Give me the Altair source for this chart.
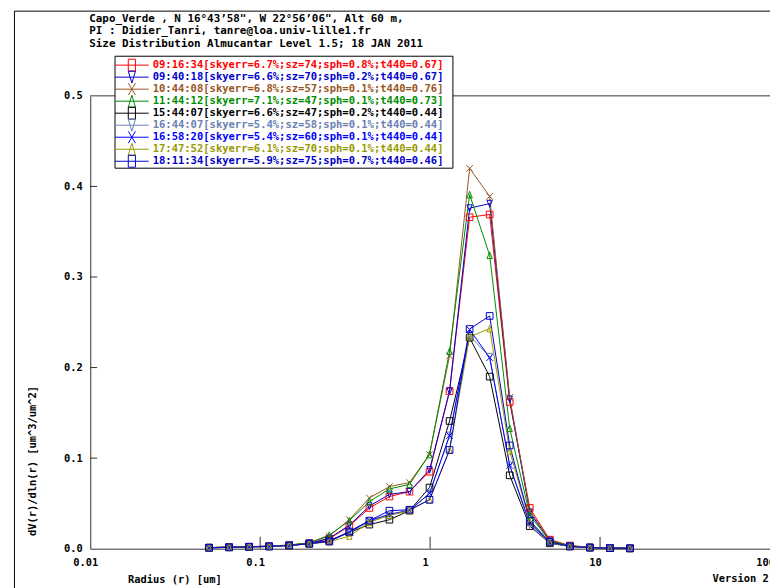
import altair as alt
import pandas as pd

# ---------------- data ----------------
radius = [0.05, 0.065604, 0.086077, 0.112939, 0.148184, 0.194428, 0.255104, 0.334716,
          0.439173, 0.576227, 0.756052, 0.991996, 1.301571, 1.707757, 2.240702, 2.939966,
          3.857452, 5.061260, 6.640745, 8.713145, 11.432287, 15.0]

times = ["09:16:34", "09:40:18", "10:44:08", "11:44:12", "15:44:07",
         "16:44:07", "16:58:20", "17:47:52", "18:11:34"]

labels = [
    "09:16:34[skyerr=6.7%;sz=74;sph=0.8%;t440=0.67]",
    "09:40:18[skyerr=6.6%;sz=70;sph=0.2%;t440=0.67]",
    "10:44:08[skyerr=6.8%;sz=57;sph=0.1%;t440=0.76]",
    "11:44:12[skyerr=7.1%;sz=47;sph=0.1%;t440=0.73]",
    "15:44:07[skyerr=6.6%;sz=47;sph=0.2%;t440=0.44]",
    "16:44:07[skyerr=5.4%;sz=58;sph=0.1%;t440=0.44]",
    "16:58:20[skyerr=5.4%;sz=60;sph=0.1%;t440=0.44]",
    "17:47:52[skyerr=6.1%;sz=70;sph=0.1%;t440=0.44]",
    "18:11:34[skyerr=5.9%;sz=75;sph=0.7%;t440=0.46]",
]

s_091634 = [0.0012, 0.0018, 0.0022, 0.0028, 0.0038, 0.0060, 0.0110, 0.0250, 0.0450, 0.0576, 0.0630,
            0.0850, 0.1740, 0.3660, 0.3690, 0.1620, 0.0450, 0.0100, 0.0035, 0.0015, 0.0008, 0.0005]
s_094018 = [0.0012, 0.0018, 0.0022, 0.0028, 0.0038, 0.0060, 0.0115, 0.0260, 0.0470, 0.0600, 0.0630,
            0.0870, 0.1740, 0.3760, 0.3810, 0.1650, 0.0400, 0.0090, 0.0030, 0.0013, 0.0007, 0.0004]
s_104408 = [0.0012, 0.0018, 0.0022, 0.0028, 0.0040, 0.0065, 0.0140, 0.0320, 0.0560, 0.0686, 0.0730,
            0.1040, 0.2130, 0.4200, 0.3890, 0.1670, 0.0420, 0.0095, 0.0033, 0.0014, 0.0007, 0.0004]
s_114412 = [0.0012, 0.0018, 0.0022, 0.0028, 0.0040, 0.0065, 0.0150, 0.0310, 0.0520, 0.0660, 0.0710,
            0.1040, 0.2180, 0.3910, 0.3240, 0.1330, 0.0370, 0.0085, 0.0030, 0.0013, 0.0007, 0.0004]
s_154407 = [0.0010, 0.0015, 0.0020, 0.0025, 0.0035, 0.0055, 0.0090, 0.0180, 0.0266, 0.0320, 0.0420,
            0.0675, 0.1410, 0.2330, 0.1900, 0.0810, 0.0250, 0.0060, 0.0025, 0.0012, 0.0006, 0.0004]
s_164407 = [0.0010, 0.0015, 0.0020, 0.0025, 0.0035, 0.0055, 0.0080, 0.0180, 0.0300, 0.0370, 0.0420,
            0.0610, 0.1250, 0.2350, 0.2120, 0.0920, 0.0260, 0.0065, 0.0025, 0.0012, 0.0006, 0.0004]
s_165820 = [0.0010, 0.0015, 0.0020, 0.0025, 0.0035, 0.0055, 0.0085, 0.0185, 0.0310, 0.0380, 0.0425,
            0.0610, 0.1250, 0.2420, 0.2110, 0.0920, 0.0280, 0.0070, 0.0025, 0.0012, 0.0006, 0.0004]
s_174752 = [0.0010, 0.0015, 0.0020, 0.0025, 0.0035, 0.0055, 0.0075, 0.0140, 0.0290, 0.0370, 0.0420,
            0.0540, 0.1090, 0.2340, 0.2430, 0.1080, 0.0300, 0.0070, 0.0025, 0.0012, 0.0006, 0.0004]
s_181134 = [0.0010, 0.0015, 0.0020, 0.0025, 0.0035, 0.0055, 0.0080, 0.0190, 0.0310, 0.0420, 0.0430,
            0.0540, 0.1090, 0.2426, 0.2570, 0.1140, 0.0310, 0.0075, 0.0025, 0.0012, 0.0006, 0.0004]

series_values = [s_091634, s_094018, s_104408, s_114412, s_154407,
                 s_164407, s_165820, s_174752, s_181134]

colors = ["#ff0000", "#0000cd", "#995522", "#008c00", "#000000",
          "#6b80b3", "#0000ff", "#999900", "#0000c8"]

SQ = "M-1,-1H1V1H-1Z"
TD = "M-0.8,-1H0.8L0,1Z"
TU = "M-0.8,1H0.8L0,-1Z"
XX = "M-1,-1L1,1M-1,1L1,-1"
shapes = [SQ, TD, XX, TU, SQ, TD, XX, TU, SQ]

SQt = "M-0.6,-1H0.6V1H-0.6Z"
TDt = "M-0.6,-1H0.6L0,1Z"
TUt = "M-0.6,1H0.6L0,-1Z"
XXt = "M-0.6,-1L0.6,1M-0.6,1L0.6,-1"
legend_shapes = [SQt, TDt, XXt, TUt, SQt, TDt, XXt, TUt, SQt]

title_lines = [
    "Capo_Verde , N 16°43’58\", W 22°56’06\", Alt 60 m,",
    "PI : Didier_Tanri, tanre@loa.univ-lille1.fr",
    "Size Distribution Almucantar Level 1.5; 18 JAN 2011",
]
x_tick_values = [0.01, 0.1, 1, 10, 100]
x_inner_ticks = [0.1, 1, 10]
y_tick_values = [0.0, 0.1, 0.2, 0.3, 0.4, 0.5]
y_inner_ticks = [0.1, 0.2, 0.3, 0.4]

# ---------------- tables ----------------
rows = []
for t, vals in zip(times, series_values):
    for r, v in zip(radius, vals):
        rows.append({"series": t, "r": r, "dv": v})
df = pd.DataFrame(rows)
df_leg = pd.DataFrame({"series": times, "label": labels})
one = pd.DataFrame({"a": [0]})

W, H = 686, 457
FONT = "DejaVu Sans Mono"

xscale = alt.Scale(type="log", domain=[0.01, 100], nice=False)
yscale = alt.Scale(domain=[0, 0.5], nice=False, zero=False)
cscale = alt.Scale(domain=times, range=colors)

x_enc = alt.X("r:Q", scale=xscale,
              axis=alt.Axis(values=x_tick_values, format="~g", labelOffset=-5, labelPadding=9,
                            labelFlush=False, labelOverlap=False, labelBound=False,
                            title="Radius (r) [um]", titleX=85, titleY=31,
                            titleBaseline="middle", titleAlign="center"))
y_enc = alt.Y("dv:Q", scale=yscale,
              axis=alt.Axis(values=y_tick_values, format=".1f", labelPadding=8,
                            labelFlush=False, labelOverlap=False,
                            title="dV(r)/dln(r) [um^3/um^2]", titleX=-58, titleY=368,
                            titleBaseline="middle", titleAlign="center"))

lines = alt.Chart(df).mark_line(strokeWidth=1).encode(
    x=x_enc, y=y_enc,
    color=alt.Color("series:N", scale=cscale, legend=None),
    detail="series:N",
    order=alt.Order("r:Q"),
)
points = alt.Chart(df).mark_point(filled=False, size=45, strokeWidth=1, opacity=1).encode(
    x=alt.X("r:Q", scale=xscale), y=alt.Y("dv:Q", scale=yscale),
    color=alt.Color("series:N", scale=cscale, legend=None),
    shape=alt.Shape("series:N", scale=alt.Scale(domain=times, range=shapes), legend=None),
)

xt = alt.Chart(pd.DataFrame({"r": x_inner_ticks})).mark_rule(color="#333", strokeWidth=1).encode(
    x=alt.X("r:Q", scale=xscale), y=alt.value(H), y2=alt.value(H - 12))
yt = alt.Chart(pd.DataFrame({"dv": y_inner_ticks})).mark_rule(color="#333", strokeWidth=1).encode(
    y=alt.Y("dv:Q", scale=yscale), x=alt.value(0), x2=alt.value(7))
top_frame = alt.Chart(one).mark_rule(color="#333", strokeWidth=1).encode(
    x=alt.value(0), x2=alt.value(W), y=alt.value(0))

outer_left = alt.Chart(one).mark_rule(color="black", strokeWidth=1).encode(
    x=alt.value(-76.5), y=alt.value(-85.5), y2=alt.value(H + 40))
outer_top = alt.Chart(one).mark_rule(color="black", strokeWidth=1).encode(
    x=alt.value(-76.5), x2=alt.value(W + 10), y=alt.value(-85.5))

title_txt = alt.Chart(one).mark_text(
    align="left", baseline="top", font=FONT, fontSize=11, fontWeight="bold",
    lineHeight=13, color="black").encode(
    x=alt.value(-1), y=alt.value(-84), text=alt.value(title_lines))
version_txt = alt.Chart(one).mark_text(
    align="left", baseline="middle", font=FONT, fontSize=10.5, fontWeight="bold",
    color="black").encode(x=alt.value(628), y=alt.value(31 + H), text=alt.value("Version 2"))

main = alt.layer(outer_left, outer_top, top_frame, xt, yt, lines, points, title_txt, version_txt)

# ---------------- legend ----------------
ly = alt.Y("series:N", scale=alt.Scale(type="point", domain=times, range=[-31, 66], padding=0),
           axis=None)
box = alt.Chart(one).mark_rect(fill="white", stroke="black", strokeWidth=1).encode(
    x=alt.value(25), x2=alt.value(366), y=alt.value(-40), y2=alt.value(73))
leg_rule = alt.Chart(df_leg).mark_rule(strokeWidth=1).encode(
    x=alt.value(25), x2=alt.value(59), y=ly,
    color=alt.Color("series:N", scale=cscale, legend=None))
leg_pt = alt.Chart(df_leg).mark_point(filled=False, size=144, strokeWidth=1, opacity=1).encode(
    x=alt.value(42), y=ly,
    color=alt.Color("series:N", scale=cscale, legend=None),
    shape=alt.Shape("series:N", scale=alt.Scale(domain=times, range=legend_shapes), legend=None))
leg_txt = alt.Chart(df_leg).mark_text(
    align="left", baseline="middle", font=FONT, fontSize=10.6, fontWeight="bold").encode(
    x=alt.value(63), y=ly, text="label:N",
    color=alt.Color("series:N", scale=cscale, legend=None))
legend = alt.layer(box, leg_rule, leg_pt, leg_txt)

chart = alt.layer(main, legend).resolve_scale(y="independent", shape="independent").properties(
    width=W, height=H,
    autosize=alt.AutoSizeParams(type="none"),
    padding={"left": 83, "top": 86, "right": 0, "bottom": 37},
).configure_view(stroke=None).configure_axis(
    grid=False, ticks=False, domainColor="#333", domainWidth=1,
    labelFont=FONT, labelFontWeight="bold", labelFontSize=10.5, labelColor="black",
    titleFont=FONT, titleFontWeight="bold", titleFontSize=10.5, titleColor="black",
)

chart.save("out.html", embed_options={"renderer": "svg", "actions": False})
